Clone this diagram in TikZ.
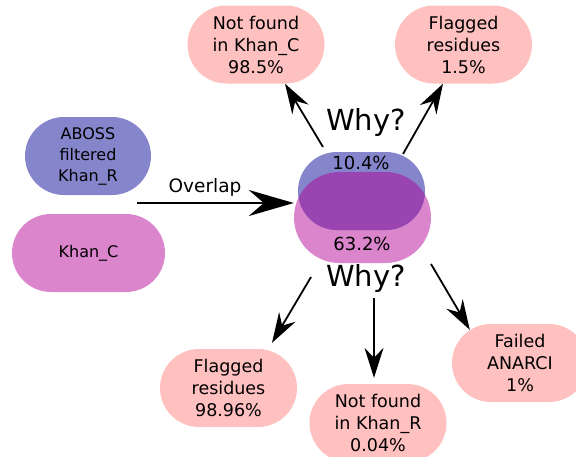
\documentclass[tikz,border=0pt]{standalone}
\usepackage{fontspec}
\setmainfont{DejaVu Sans}
\usetikzlibrary{arrows.meta}
\definecolor{setblue}{HTML}{8585CC}
\definecolor{setpink}{HTML}{DA85CC}
\definecolor{setboth}{HTML}{9944B0}
\definecolor{reason}{HTML}{FFC0C0}
\tikzset{
  x=1pt, y=-1pt,
  stadium/.style={rectangle, inner sep=0pt, align=center,
    font=\fontsize{16}{21}\selectfont},
  reasonbox/.style={stadium, fill=reason, minimum width=137pt,
    minimum height=78pt, rounded corners=39pt,
    font=\fontsize{17.5}{22}\selectfont},
  why/.style={font=\fontsize{29}{32}\selectfont, inner sep=0pt},
  pct/.style={font=\fontsize{18}{20}\selectfont, inner sep=0pt},
  bigarrow/.style={line width=2.8pt, -{Stealth[length=45pt, width=26pt, inset=15pt]}},
  arrow/.style={line width=1.8pt, -{Stealth[length=30pt, width=19pt, inset=10pt]}},
}
\begin{document}
\begin{tikzpicture}
\path[use as bounding box] (0,0) rectangle (576,456);

% input sets
\node[stadium, fill=setblue, minimum width=126pt, minimum height=78pt,
  rounded corners=39pt] (aboss) at (88,156) {ABOSS\\filtered\\Khan\_R};
\node[stadium, fill=setpink, minimum width=153pt, minimum height=78pt,
  rounded corners=39pt] (khanc) at (88.5,253) {Khan\_C};

% overlapping sets
\node[stadium, fill=setpink, minimum width=137pt, minimum height=91pt,
  rounded corners=45.5pt] (pinkc) at (362.5,217.5) {};
\node[stadium, fill=setblue, minimum width=127pt, minimum height=78pt,
  rounded corners=39pt] (bluec) at (361.5,191) {};
\begin{scope}
  \clip[rounded corners=39pt] (298,152) rectangle (425,230);
  \fill[setboth, rounded corners=45.5pt] (294,172) rectangle (431,263);
\end{scope}
\node[pct] (p104) at (361,163) {10.4\%};
\node[pct] (p632) at (362,244) {63.2\%};

% overlap arrow
\coordinate (ovtail) at (137,203);
\draw[bigarrow] (ovtail) -- ([yshift=14.5pt]pinkc.west);
\node[font=\fontsize{18.5}{20}\selectfont, inner sep=0pt] (ovlabel) at (205,187) {Overlap};

% reasons for the blue part
\node[why] (whytop) at (366,122) {Why?};
\node[reasonbox] (nfc) at (256,44.5) {Not found\\in Khan\_C\\98.5\%};
\node[reasonbox] (flg1) at (463.5,44.5) {Flagged\\residues\\1.5\%};
\coordinate (t1) at (323,147);
\coordinate (t2) at (403,154);
\draw[arrow] (t1) -- ([xshift=29pt]nfc.south);
\draw[arrow] (t2) -- ([xshift=-20.5pt]flg1.south);

% reasons for the pink part
\node[why] (whybot) at (366,278) {Why?};
\node[reasonbox] (flg2) at (228.5,388) {Flagged\\residues\\98.96\%};
\node[reasonbox] (nfr) at (378,423) {Not found\\in Khan\_R\\0.04\%};
\node[reasonbox, minimum width=136pt] (fail) at (520,363) {Failed\\ANARCI\\1\%};
\coordinate (b1) at (311,277);
\coordinate (b2) at (374,298);
\coordinate (b3) at (431,264);
\draw[arrow] (b1) -- ([xshift=43.5pt, yshift=6pt]flg2.north);
\draw[arrow] (b2) -- ([xshift=-4pt, yshift=6pt]nfr.north);
\draw[arrow] (b3) -- ([xshift=18pt, yshift=-6pt]fail.north west);
\end{tikzpicture}
\end{document}
